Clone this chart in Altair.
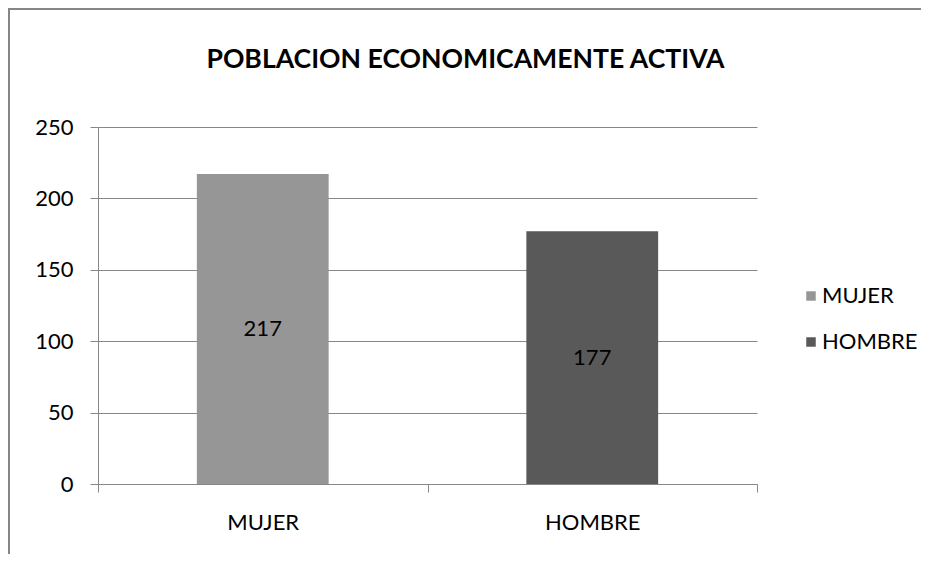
import altair as alt
import pandas as pd

categories = ["MUJER", "HOMBRE"]
values = [217, 177]
colors = ["#969696", "#595959"]
y_ticks = [0, 50, 100, 150, 200, 250]
title_text = "POBLACION ECONOMICAMENTE ACTIVA"

FONT = "Lato"
GRID = "#878787"
FS = 22

df = pd.DataFrame({"sexo": categories, "valor": values})
frame_df = pd.DataFrame({"k": [0]})

x_enc = alt.X(
    "sexo:N",
    sort=categories,
    scale=alt.Scale(paddingInner=0, paddingOuter=0),
    axis=alt.Axis(
        title=None, labelAngle=0, tickBand="extent", tickSize=8,
        labelPadding=20, labelFontSize=FS, labelFont=FONT, labelColor="#000",
        domainColor=GRID, tickColor=GRID, grid=False,
    ),
)
y_enc = alt.Y(
    "valor:Q",
    scale=alt.Scale(domain=[0, 250], nice=False),
    axis=alt.Axis(
        title=None, values=y_ticks, tickSize=8, labelPadding=17,
        labelFontSize=FS, labelFont=FONT, labelColor="#000",
        domainColor=GRID, tickColor=GRID, gridColor=GRID, grid=True,
    ),
)

bars = alt.Chart(df).mark_bar(width=alt.RelativeBandSize(0.4)).encode(
    x=x_enc,
    y=y_enc,
    color=alt.Color(
        "sexo:N",
        scale=alt.Scale(domain=categories, range=colors),
        legend=alt.Legend(
            title=None, orient="none", legendX=702, legendY=158,
            symbolType="square", symbolSize=90, symbolStrokeWidth=0,
            labelFontSize=FS, labelFont=FONT, labelColor="#000",
            labelOffset=0, rowPadding=24,
        ),
    ),
)

labels = alt.Chart(df).transform_calculate(mid="datum.valor / 2").mark_text(
    fontSize=FS, font=FONT, color="#000"
).encode(
    x=alt.X("sexo:N", sort=categories),
    y=alt.Y("mid:Q"),
    text="valor:Q",
)

border_left = alt.Chart(frame_df).mark_rule(color="#868686", strokeWidth=2).encode(
    x=alt.value(-89), y=alt.value(-118), y2=alt.value(700)
)
border_top = alt.Chart(frame_df).mark_rule(color="#868686", strokeWidth=2).encode(
    y=alt.value(-118), x=alt.value(-90), x2=alt.value(1000)
)

chart = alt.layer(bars, labels, border_left, border_top).properties(
    width=659,
    height=357,
    autosize=alt.AutoSizeParams(type="none"),
    padding={"left": 90, "top": 119, "right": 164, "bottom": 70},
    title=alt.Title(
        title_text, fontSize=26.6, font=FONT, fontWeight="bold", color="#000",
        offset=0, dy=87, dx=38, anchor="middle", baseline="alphabetic",
    ),
).configure_view(stroke=None)

chart.save("out.html", embed_options={"renderer": "svg", "actions": False})
